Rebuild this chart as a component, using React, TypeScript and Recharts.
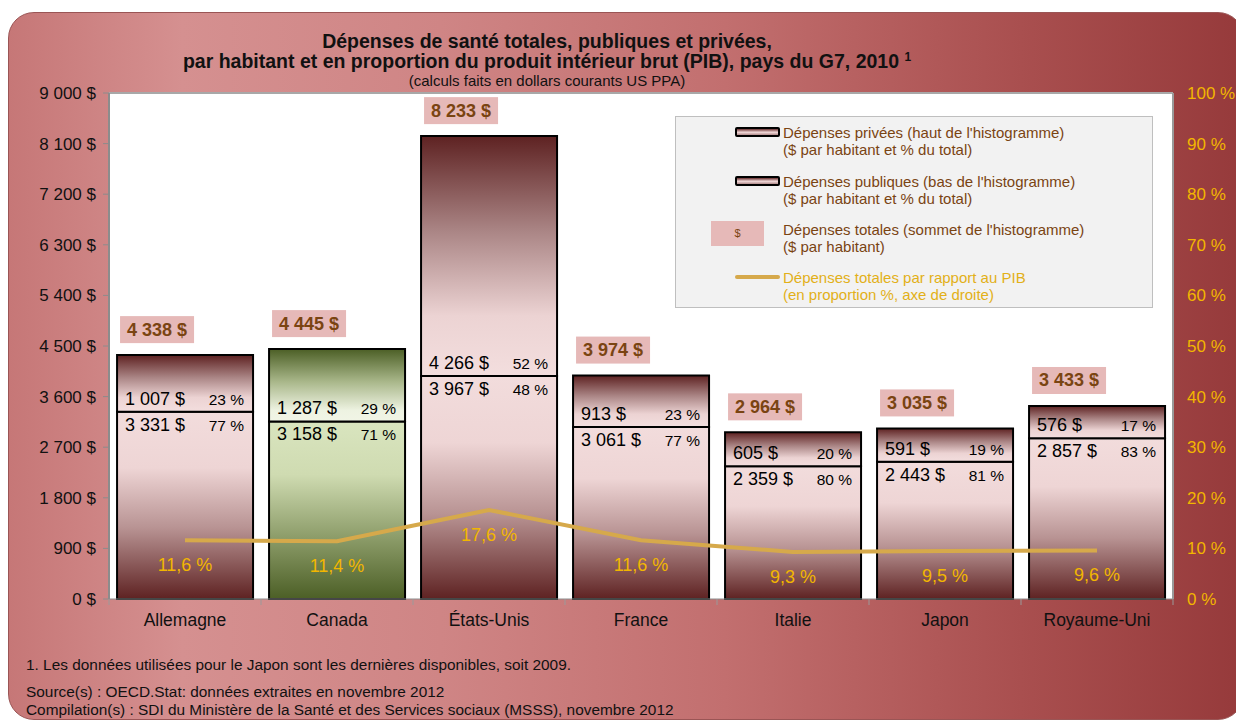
import React from "react";
import {
  ComposedChart,
  Bar,
  Line,
  XAxis,
  YAxis,
  CartesianGrid,
  Cell,
  LabelList,
  Legend,
  ReferenceLine,
} from "recharts";

const countries = ["Allemagne", "Canada", "États-Unis", "France", "Italie", "Japon", "Royaume-Uni"];
const publicSpend = [3331, 3158, 3967, 3061, 2359, 2443, 2857];
const privateSpend = [1007, 1287, 4266, 913, 605, 591, 576];
const totalSpend = [4338, 4445, 8233, 3974, 2964, 3035, 3433];
const publicPct = [77, 71, 48, 77, 80, 81, 83];
const privatePct = [23, 29, 52, 23, 20, 19, 17];
const gdpPct = [11.6, 11.4, 17.6, 11.6, 9.3, 9.5, 9.6];
const leftTicks = [0, 900, 1800, 2700, 3600, 4500, 5400, 6300, 7200, 8100, 9000];
const rightTicks = [0, 10, 20, 30, 40, 50, 60, 70, 80, 90, 100];
const greenCountry = "Canada";

const data = countries.map((c, i) => ({
  country: c,
  pub: publicSpend[i],
  priv: privateSpend[i],
  gdp: gdpPct[i],
}));

const FONT = "'Liberation Sans', Arial, sans-serif";
const BROWN = "#7a4412";
const GOLD = "#f2b600";

const money = (n: number) =>
  String(n).replace(/\B(?=(\d{3})+(?!\d))/g, "\u00a0") + "\u00a0$";
const pct = (n: number) => String(n).replace(".", ",") + "\u00a0%";

const PrivLabel = (props: any) => {
  const x = Number(props.x), y = Number(props.y), w = Number(props.width), h = Number(props.height);
  const i = props.index;
  const sep = y + h;
  return (
    <g fontFamily={FONT}>
      <rect x={x + 3} y={y - 39} width={74} height={27} fill="#e6b9b8" />
      <text x={x + 40} y={y - 19.5} textAnchor="middle" fontWeight="bold" fontSize={18} fill={BROWN}>
        {money(totalSpend[i])}
      </text>
      <text x={x + 8} y={sep - 7} fontSize={18} fill="#000">{money(privateSpend[i])}</text>
      <text x={x + w - 9} y={sep - 7} textAnchor="end" fontSize={15.5} fill="#000">{privatePct[i]} %</text>
    </g>
  );
};

const PubLabel = (props: any) => {
  const x = Number(props.x), y = Number(props.y), w = Number(props.width);
  const i = props.index;
  return (
    <g fontFamily={FONT}>
      <text x={x + 8} y={y + 19} fontSize={18} fill="#000">{money(publicSpend[i])}</text>
      <text x={x + w - 9} y={y + 19} textAnchor="end" fontSize={15.5} fill="#000">{publicPct[i]} %</text>
    </g>
  );
};

const GdpLabel = (props: any) => (
  <text x={Number(props.x)} y={Number(props.y) + 31} textAnchor="middle" fontSize={18} fill={GOLD} fontFamily={FONT}>
    {pct(gdpPct[props.index])}
  </text>
);

const XTick = (props: any) => {
  const { x, y, payload, index } = props;
  return (
    <g>
      <line x1={x - 76} x2={x - 76} y1={y} y2={y + 6} stroke="#9a9a9a" />
      {index === countries.length - 1 && <line x1={x + 76} x2={x + 76} y1={y} y2={y + 6} stroke="#9a9a9a" />}
      <text x={x} y={y + 27} textAnchor="middle" fontSize={17.5} fill="#111" fontFamily={FONT}>
        {payload.value}
      </text>
    </g>
  );
};

const swatch = (bg: string): React.CSSProperties => ({
  position: "absolute",
  left: 59,
  width: 41,
  height: 6,
  border: "2px solid #000",
  borderRadius: 2,
  background: bg,
});

const textBlock = (top: number, color: string): React.CSSProperties => ({
  position: "absolute",
  left: 107,
  top,
  fontSize: 15,
  lineHeight: "17px",
  color,
  whiteSpace: "nowrap",
});

const LegendBox = () => (
  <div
    style={{
      position: "relative",
      width: 476,
      height: 190,
      background: "#f2f2f2",
      border: "1px solid #bfbfbf",
      fontFamily: FONT,
    }}
  >
    <div style={{ ...swatch("linear-gradient(#6a3030, #f0d8d8 55%, #b08a8a)"), top: 10 }} />
    <div style={textBlock(7, BROWN)}>
      Dépenses privées (haut de l'histogramme)<br />($ par habitant et % du total)
    </div>
    <div style={{ ...swatch("linear-gradient(#6a3030, #f0d8d8 55%, #b08a8a)"), top: 59 }} />
    <div style={textBlock(56, BROWN)}>
      Dépenses publiques (bas de l'histogramme)<br />($ par habitant et % du total)
    </div>
    <div
      style={{
        position: "absolute",
        left: 35,
        top: 104,
        width: 53,
        height: 25,
        background: "#e6b9b8",
        color: BROWN,
        fontSize: 11,
        lineHeight: "25px",
        textAlign: "center",
      }}
    >
      $
    </div>
    <div style={textBlock(104, BROWN)}>
      Dépenses totales (sommet de l'histogramme)<br />($ par habitant)
    </div>
    <div style={{ position: "absolute", left: 59, top: 158, width: 45, height: 4, borderRadius: 2, background: "#d6a94b" }} />
    <div style={textBlock(152, "#e2b018")}>
      Dépenses totales par rapport au PIB<br />(en proportion %, axe de droite)
    </div>
  </div>
);

export default function App() {
  return (
    <div
      style={{
        position: "relative",
        width: 1236,
        height: 708,
        marginTop: 4,
        borderRadius: 26,
        border: "1px solid #9a5555",
        boxSizing: "border-box",
        background: "linear-gradient(90deg, #c67777 0%, #d59090 14%, #cf8585 35%, #c26f6f 58%, #a94f4f 82%, #963a3b 100%)",
        fontFamily: FONT,
      }}
    >
      <div style={{ position: "absolute", left: 0, width: 1076, top: 18, textAlign: "center", fontSize: 19.5, lineHeight: "20px", fontWeight: "bold", color: "#111" }}>
        Dépenses de santé totales, publiques et privées,
        <br />
        par habitant et en proportion du produit intérieur brut (PIB), pays du G7, 2010{" "}
        <span style={{ fontSize: 12, position: "relative", top: -7, lineHeight: 0 }}>1</span>
      </div>
      <div style={{ position: "absolute", left: 0, width: 1076, top: 60, textAlign: "center", fontSize: 15, lineHeight: "16px", color: "#111" }}>
        (calculs faits en dollars courants US PPA)
      </div>

      <div style={{ position: "absolute", left: 0, top: 0 }}>
        <ComposedChart
          width={1236}
          height={708}
          data={data}
          margin={{ top: 80, right: 10, bottom: 92, left: 10 }}
          barCategoryGap="5.3%"
        >
          <defs>
            <linearGradient id="pubRed" x1="0" y1="0" x2="0" y2="1">
              <stop offset="0%" stopColor="#f2dcdc" />
              <stop offset="30%" stopColor="#eed5d5" />
              <stop offset="62%" stopColor="#b89393" />
              <stop offset="100%" stopColor="#5e2222" />
            </linearGradient>
            <linearGradient id="privRed" x1="0" y1="0" x2="0" y2="1">
              <stop offset="0%" stopColor="#5e2222" />
              <stop offset="40%" stopColor="#ab8686" />
              <stop offset="75%" stopColor="#ecd3d3" />
              <stop offset="100%" stopColor="#f3dede" />
            </linearGradient>
            <linearGradient id="pubGreen" x1="0" y1="0" x2="0" y2="1">
              <stop offset="0%" stopColor="#d9e5bf" />
              <stop offset="30%" stopColor="#cfdbb1" />
              <stop offset="65%" stopColor="#8d9d6a" />
              <stop offset="100%" stopColor="#4c5f26" />
            </linearGradient>
            <linearGradient id="privGreen" x1="0" y1="0" x2="0" y2="1">
              <stop offset="0%" stopColor="#4c5f26" />
              <stop offset="45%" stopColor="#a9b78a" />
              <stop offset="85%" stopColor="#eef3e2" />
              <stop offset="100%" stopColor="#f1f5e6" />
            </linearGradient>
          </defs>
          <CartesianGrid yAxisId="left" fill="#ffffff" horizontal={false} vertical={false} />
          <XAxis
            dataKey="country"
            tick={<XTick />}
            tickLine={false}
            tickSize={0}
            tickMargin={0}
            axisLine={{ stroke: "#8c8c8c" }}
            height={30}
            interval={0}
          />
          <YAxis
            yAxisId="left"
            domain={[0, 9000]}
            ticks={leftTicks}
            tickFormatter={money}
            tick={{ fontSize: 17, fill: "#111", fontFamily: FONT }}
            axisLine={{ stroke: "#8c8c8c", strokeWidth: 2 }}
            tickLine={{ stroke: "#8c8c8c" }}
            tickSize={6}
            tickMargin={7}
            width={90}
            interval={0}
          />
          <YAxis
            yAxisId="right"
            orientation="right"
            domain={[0, 100]}
            ticks={rightTicks}
            tickFormatter={(v: number) => `${v} %`}
            tick={{ fontSize: 17, fill: GOLD, fontFamily: FONT }}
            axisLine={{ stroke: "#9a9a9a", strokeWidth: 2 }}
            tickLine={false}
            tickSize={6}
            tickMargin={8}
            width={62}
            interval={0}
          />
          <ReferenceLine yAxisId="left" y={9000} stroke="#a8a8a8" strokeWidth={2} />
          <Bar dataKey="pub" stackId="s" yAxisId="left" stroke="#000" strokeWidth={2} isAnimationActive={false}>
            {data.map((d) => (
              <Cell key={d.country} fill={d.country === greenCountry ? "url(#pubGreen)" : "url(#pubRed)"} />
            ))}
            <LabelList dataKey="pub" content={<PubLabel />} />
          </Bar>
          <Bar dataKey="priv" stackId="s" yAxisId="left" stroke="#000" strokeWidth={2} isAnimationActive={false}>
            {data.map((d) => (
              <Cell key={d.country} fill={d.country === greenCountry ? "url(#privGreen)" : "url(#privRed)"} />
            ))}
            <LabelList dataKey="priv" content={<PrivLabel />} />
          </Bar>
          <Line
            dataKey="gdp"
            yAxisId="right"
            type="linear"
            stroke="#d6a94b"
            strokeWidth={4}
            dot={false}
            isAnimationActive={false}
          >
            <LabelList dataKey="gdp" content={<GdpLabel />} />
          </Line>
          <Legend
            layout="vertical"
            align="center"
            verticalAlign="middle"
            content={<LegendBox />}
            wrapperStyle={{ left: 666, top: 103, width: 478, height: 192 }}
          />
        </ComposedChart>
      </div>

      <div style={{ position: "absolute", left: 17, top: 643, fontSize: 15.4, lineHeight: "17px", color: "#111" }}>
        1. Les données utilisées pour le Japon sont les dernières disponibles, soit 2009.
      </div>
      <div style={{ position: "absolute", left: 17, top: 670, fontSize: 15.4, lineHeight: "18px", color: "#111" }}>
        Source(s) : OECD.Stat: données extraites en novembre 2012
        <br />
        Compilation(s) : SDI du Ministère de la Santé et des Services sociaux (MSSS), novembre 2012
      </div>
    </div>
  );
}
